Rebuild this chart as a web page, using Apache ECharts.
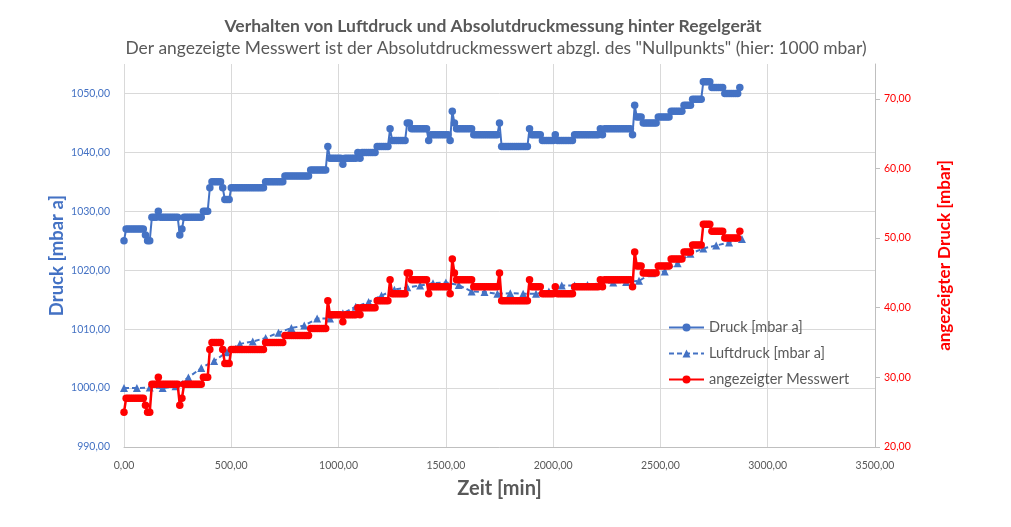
<!DOCTYPE html>
<html>
<head>
<meta charset="utf-8">
<script src="https://cdn.jsdelivr.net/npm/echarts@6/dist/echarts.min.js"></script>
<style>html,body{margin:0;padding:0;background:#fff}#c{width:1011px;height:527px}</style>
</head>
<body>
<div id="c"></div>
<script>
// ---- data ----
const TITLE = 'Verhalten von Luftdruck und Absolutdruckmessung hinter Regelgerät';
const SUBTITLE = 'Der angezeigte Messwert ist der Absolutdruckmesswert abzgl. des "Nullpunkts" (hier: 1000 mbar)';
const seriesNames = ['Druck [mbar a]', 'Luftdruck [mbar a]', 'angezeigter Messwert'];

// Druck [mbar a], one sample every 10 min from t = 0 (one row = one hour)
const druckStep = 10;
const druck = [
  1025,1027,1027,1027,1027,1027,
  1027,1027,1027,1027,1026,1025,
  1025,1029,1029,1029,1030,1029,
  1029,1029,1029,1029,1029,1029,
  1029,1029,1026,1027,1029,1029,
  1029,1029,1029,1029,1029,1029,
  1029,1030,1030,1030,1034,1035,
  1035,1035,1035,1035,1034,1032,
  1032,1032,1034,1034,1034,1034,
  1034,1034,1034,1034,1034,1034,
  1034,1034,1034,1034,1034,1034,
  1035,1035,1035,1035,1035,1035,
  1035,1035,1035,1036,1036,1036,
  1036,1036,1036,1036,1036,1036,
  1036,1036,1036,1037,1037,1037,
  1037,1037,1037,1037,1037,1041,
  1039,1039,1039,1039,1039,1039,
  1038,1039,1039,1039,1039,1039,
  1039,1040,1039,1040,1040,1040,
  1040,1040,1040,1040,1041,1041,
  1041,1041,1041,1041,1044,1042,
  1042,1042,1042,1042,1042,1042,
  1045,1045,1044,1044,1044,1044,
  1044,1044,1044,1044,1042,1043,
  1043,1043,1043,1043,1043,1043,
  1043,1043,1042,1047,1045,1044,
  1044,1044,1044,1044,1044,1044,
  1044,1043,1043,1043,1043,1043,
  1043,1043,1043,1043,1043,1043,
  1043,1045,1041,1041,1041,1041,
  1041,1041,1041,1041,1041,1041,
  1041,1041,1041,1044,1043,1043,
  1043,1043,1043,1042,1042,1042,
  1042,1042,1042,1043,1042,1042,
  1042,1042,1042,1042,1042,1042,
  1043,1043,1043,1043,1043,1043,
  1043,1043,1043,1043,1043,1043,
  1044,1043,1044,1044,1044,1044,
  1044,1044,1044,1044,1044,1044,
  1044,1044,1044,1043,1048,1046,
  1046,1046,1045,1045,1045,1045,
  1045,1045,1045,1046,1046,1046,
  1046,1046,1046,1047,1047,1047,
  1047,1047,1047,1048,1048,1048,
  1048,1049,1049,1049,1049,1049,
  1052,1052,1052,1052,1051,1051,
  1051,1051,1051,1051,1050,1050,
  1050,1050,1050,1050,1050,1051
];

// angezeigter Messwert [mbar], same sampling as Druck
const messwert = [
  25,27,27,27,27,27,
  27,27,27,27,26,25,
  25,29,29,29,30,29,
  29,29,29,29,29,29,
  29,29,26,27,29,29,
  29,29,29,29,29,29,
  29,30,30,30,34,35,
  35,35,35,35,34,32,
  32,32,34,34,34,34,
  34,34,34,34,34,34,
  34,34,34,34,34,34,
  35,35,35,35,35,35,
  35,35,35,36,36,36,
  36,36,36,36,36,36,
  36,36,36,37,37,37,
  37,37,37,37,37,41,
  39,39,39,39,39,39,
  38,39,39,39,39,39,
  39,40,39,40,40,40,
  40,40,40,40,41,41,
  41,41,41,41,44,42,
  42,42,42,42,42,42,
  45,45,44,44,44,44,
  44,44,44,44,42,43,
  43,43,43,43,43,43,
  43,43,42,47,45,44,
  44,44,44,44,44,44,
  44,43,43,43,43,43,
  43,43,43,43,43,43,
  43,45,41,41,41,41,
  41,41,41,41,41,41,
  41,41,41,44,43,43,
  43,43,43,42,42,42,
  42,42,42,43,42,42,
  42,42,42,42,42,42,
  43,43,43,43,43,43,
  43,43,43,43,43,43,
  44,43,44,44,44,44,
  44,44,44,44,44,44,
  44,44,44,43,48,46,
  46,46,45,45,45,45,
  45,45,45,46,46,46,
  46,46,46,47,47,47,
  47,47,47,48,48,48,
  48,49,49,49,49,49,
  52,52,52,52,51,51,
  51,51,51,51,50,50,
  50,50,50,50,50,51
];

// Luftdruck [mbar a], one sample every 60 min from t = 0
const luftStep = 60;
const luftdruck = [
  1000.0,1000.0,1000.1,1000.0,1000.3,1001.8,1003.4,1004.6,1006.1,1007.5,
  1007.9,1008.5,1009.4,1010.2,1010.6,1011.8,1011.8,1012.7,1013.8,1014.6,
  1015.7,1016.7,1017.1,1017.4,1017.8,1017.9,1017.5,1016.4,1016.3,1016.0,
  1016.1,1016.0,1016.0,1016.4,1017.4,1017.4,1017.5,1017.8,1017.9,1018.0,
  1018.2,1019.5,1019.8,1021.2,1022.8,1023.7,1024.2,1024.7,1025.3
];

const xTicks = {min: 0, max: 3500, interval: 500};
const leftTicks = {min: 990, max: 1055, interval: 10};
const rightTicks = {min: 20, max: 75, interval: 10};

// ---- chart ----
const toPairs = (arr, step) => arr.map((v, i) => [i * step, v]);
const fmt = v => v.toFixed(2).replace('.', ',');
const BLUE = '#4472C4', RED = '#FF0000', GREY = '#595959', FONT = 'Lato';

const chart = echarts.init(document.getElementById('c'), null, {renderer: 'canvas'});
chart.setOption({
  animation: false,
  backgroundColor: '#fff',
  textStyle: {fontFamily: FONT},
  title: [
    {text: TITLE, left: 488, textAlign: 'center', top: 12,
     textStyle: {fontFamily: FONT, fontSize: 17.5, fontWeight: 'bold', color: GREY}},
    {text: SUBTITLE, left: 491, textAlign: 'center', top: 35,
     textStyle: {fontFamily: FONT, fontSize: 17.4, fontWeight: 'normal', color: GREY}}
  ],
  grid: {left: 124, right: 136, top: 64, bottom: 80},
  legend: {
    orient: 'vertical', left: 663, top: 315, itemWidth: 35, itemHeight: 10, itemGap: 11,
    textStyle: {fontFamily: FONT, fontSize: 14.5, color: GREY},
    data: seriesNames
  },
  xAxis: {
    type: 'value', min: xTicks.min, max: xTicks.max, interval: xTicks.interval,
    axisLine: {show: true, lineStyle: {color: '#BFBFBF', width: 1}},
    axisTick: {show: false},
    splitLine: {show: true, lineStyle: {color: '#D9D9D9', width: 1}},
    axisLabel: {formatter: fmt, color: GREY, fontSize: 10.5, fontFamily: FONT, margin: 13},
    name: 'Zeit [min]', nameLocation: 'middle', nameGap: 32,
    nameTextStyle: {fontFamily: FONT, fontSize: 20, fontWeight: 'bold', color: GREY}
  },
  yAxis: [
    {
      type: 'value', position: 'left', min: leftTicks.min, max: leftTicks.max, interval: leftTicks.interval,
      axisLine: {show: false}, axisTick: {show: false},
      splitLine: {show: true, showMaxLine: false, lineStyle: {color: '#D9D9D9', width: 1}},
      axisLabel: {formatter: fmt, showMaxLabel: false, color: BLUE, fontSize: 10.5, fontFamily: FONT, margin: 14},
      name: 'Druck [mbar a]', nameLocation: 'middle', nameGap: 57, nameMoveOverlap: false,
      nameTextStyle: {fontFamily: FONT, fontSize: 18.5, fontWeight: 'bold', color: BLUE}
    },
    {
      type: 'value', position: 'right', min: rightTicks.min, max: rightTicks.max, interval: rightTicks.interval,
      axisLine: {show: true, lineStyle: {color: '#BFBFBF', width: 1}},
      axisTick: {show: true, length: 5, lineStyle: {color: '#BFBFBF'}},
      splitLine: {show: false},
      axisLabel: {formatter: fmt, showMaxLabel: false, color: RED, fontSize: 10.5, fontFamily: FONT, margin: 9},
      name: 'angezeigter Druck [mbar]', nameLocation: 'middle', nameGap: 61,
      nameTextStyle: {fontFamily: FONT, fontSize: 17, fontWeight: 'bold', color: RED}
    }
  ],
  series: [
    {
      name: seriesNames[0], type: 'line', yAxisIndex: 0, data: toPairs(druck, druckStep),
      symbol: 'circle', symbolSize: 7.5, showSymbol: true,
      lineStyle: {color: BLUE, width: 2}, itemStyle: {color: BLUE},
      emphasis: {disabled: true}, z: 2
    },
    {
      name: seriesNames[1], type: 'line', yAxisIndex: 0, data: toPairs(luftdruck, luftStep),
      symbol: 'triangle', symbolSize: 8, showSymbol: true,
      lineStyle: {color: BLUE, width: 2, type: [5, 3]}, itemStyle: {color: BLUE},
      emphasis: {disabled: true}, z: 3
    },
    {
      name: seriesNames[2], type: 'line', yAxisIndex: 1, data: toPairs(messwert, druckStep),
      symbol: 'circle', symbolSize: 7.5, showSymbol: true,
      lineStyle: {color: RED, width: 2.5}, itemStyle: {color: RED},
      emphasis: {disabled: true}, z: 4
    }
  ]
});
</script>
</body>
</html>
